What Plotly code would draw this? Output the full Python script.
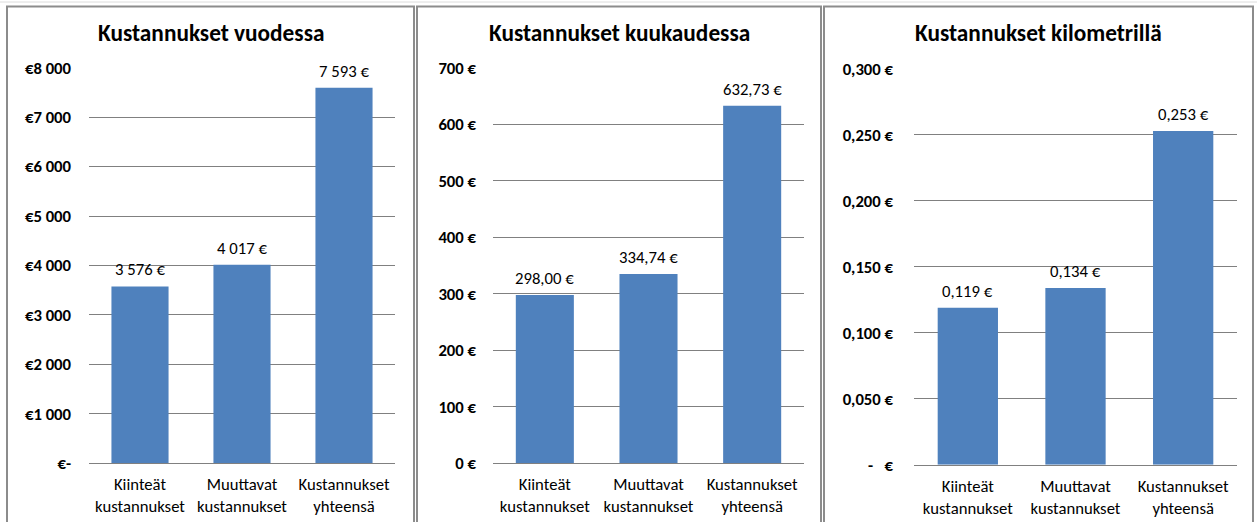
import plotly.graph_objects as go

categories = ["Kiinteät<br>kustannukset", "Muuttavat<br>kustannukset", "Kustannukset<br>yhteensä"]

titles = ["Kustannukset vuodessa", "Kustannukset kuukaudessa", "Kustannukset kilometrillä"]

yearly = [3576, 4017, 7593]
monthly = [298.00, 334.74, 632.73]
per_km = [0.119, 0.134, 0.253]

yearly_ticks = [0, 1000, 2000, 3000, 4000, 5000, 6000, 7000, 8000]
yearly_ticktext = ["€-", "€1 000", "€2 000", "€3 000", "€4 000", "€5 000", "€6 000", "€7 000", "€8 000"]
monthly_ticks = [0, 100, 200, 300, 400, 500, 600, 700]
monthly_ticktext = ["0 €", "100 €", "200 €", "300 €", "400 €", "500 €", "600 €", "700 €"]
km_ticks = [0, 0.05, 0.10, 0.15, 0.20, 0.25, 0.30]
km_ticktext = ["-   €", "0,050 €", "0,100 €", "0,150 €", "0,200 €", "0,250 €", "0,300 €"]

W, H = 1257, 522
FONT = "Carlito, Calibri, Lato, sans-serif"
BAR = "#4F81BD"
GRID = "#808080"


def fmt_year(v):
    return f"{v:,.0f}".replace(",", " ") + " €"


def fmt_month(v):
    return f"{v:.2f}".replace(".", ",") + " €"


def fmt_km(v):
    return f"{v:.3f}".replace(".", ",") + " €"


panels = [
    dict(vals=yearly, fmt=fmt_year, ticks=yearly_ticks, ticktext=yearly_ticktext, rng=[0, 8000],
         x=(89, 395), y=(67.7, 463.3), box=(7, 414), title=titles[0], standoff=17),
    dict(vals=monthly, fmt=fmt_month, ticks=monthly_ticks, ticktext=monthly_ticktext, rng=[0, 700],
         x=(493, 804), y=(67.7, 463.3), box=(417, 821), title=titles[1], standoff=16),
    dict(vals=per_km, fmt=fmt_km, ticks=km_ticks, ticktext=km_ticktext, rng=[0, 0.3],
         x=(914, 1237), y=(69, 464.7), box=(824, 1253), title=titles[2], standoff=20),
]

fig = go.Figure()
annotations = []
shapes = []

for i, p in enumerate(panels):
    sfx = "" if i == 0 else str(i + 1)
    xa = "x" + sfx
    ya = "y" + sfx
    fig.add_trace(go.Bar(
        x=categories, y=p["vals"], marker=dict(color=BAR, line=dict(width=0)),
        width=0.56, xaxis=xa, yaxis=ya, showlegend=False, hoverinfo="x+y",
    ))
    xd = [p["x"][0] / W, p["x"][1] / W]
    yd = [1 - p["y"][1] / H, 1 - p["y"][0] / H]
    fig.layout["xaxis" + sfx] = dict(
        domain=xd, anchor=ya, showgrid=False, showline=True, linecolor=GRID, linewidth=1.2,
        ticks="", automargin=False, ticklabelstandoff=6,
        tickfont=dict(family=FONT, size=16.7, color="#000"), fixedrange=True,
    )
    fig.layout["yaxis" + sfx] = dict(
        domain=yd, anchor=xa, range=p["rng"], tickvals=p["ticks"], ticktext=p["ticktext"],
        showgrid=True, gridcolor=GRID, gridwidth=1.2, zeroline=False, showline=False,
        ticks="", ticklabelstandoff=p["standoff"], automargin=False,
        tickfont=dict(family=FONT, size=16.7, color="#000", weight="bold"), fixedrange=True,
    )
    for c, v in zip(categories, p["vals"]):
        annotations.append(dict(
            x=c, y=v, xref=xa, yref=ya, text=p["fmt"](v), showarrow=False,
            yanchor="bottom", yshift=5, font=dict(family=FONT, size=16.7, color="#000"),
        ))
    cx = (p["box"][0] + p["box"][1]) / 2 / W
    annotations.append(dict(
        x=cx, y=1 - 33 / H, xref="paper", yref="paper", text="<b>" + p["title"] + "</b>",
        showarrow=False, xanchor="center", yanchor="middle",
        font=dict(family=FONT, size=23.3, color="#000"),
    ))
    shapes.append(dict(
        type="rect", xref="paper", yref="paper",
        x0=p["box"][0] / W, x1=p["box"][1] / W, y0=-0.05, y1=1 - 6.5 / H,
        line=dict(color="#8c8c8c", width=2), layer="below",
    ))

# faint spreadsheet grid line at the very top
shapes.append(dict(type="line", xref="paper", yref="paper", x0=0, x1=1, y0=1 - 2 / H, y1=1 - 2 / H,
                   line=dict(color="#dcdcdc", width=1), layer="below"))

fig.update_layout(
    width=W, height=H, margin=dict(l=0, r=0, t=0, b=0, autoexpand=False),
    paper_bgcolor="white", plot_bgcolor="white",
    annotations=annotations, shapes=shapes, bargap=0.44,
)

fig.write_html("out.html", config={"displayModeBar": False},
               post_script="document.body.style.margin='0px';")
